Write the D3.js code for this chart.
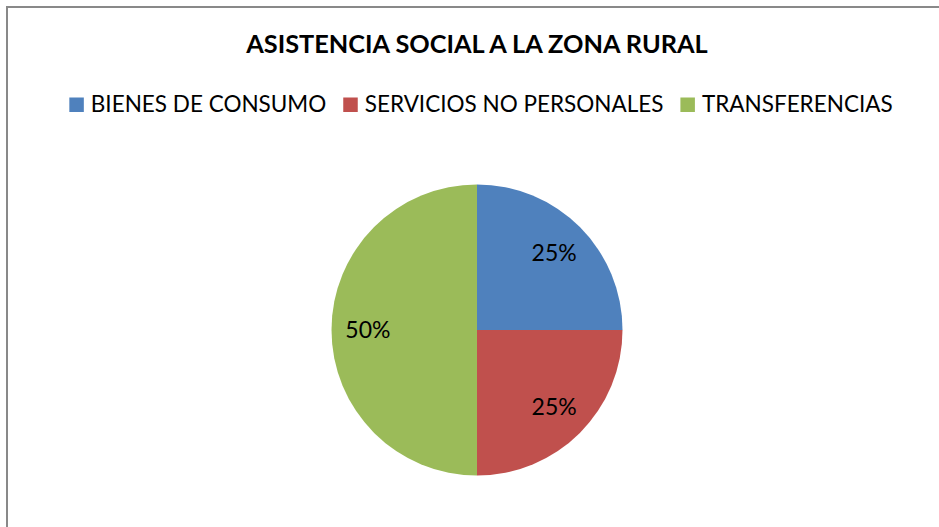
<!DOCTYPE html>
<html><head><meta charset="utf-8">
<script src="https://cdn.jsdelivr.net/npm/d3@7"></script>
<style>body{margin:0;background:#fff}svg{display:block}</style>
</head><body>
<svg id="c" width="939" height="527"></svg>
<script>
const title = "ASISTENCIA SOCIAL A LA ZONA RURAL";
const categories = ["BIENES DE CONSUMO", "SERVICIOS NO PERSONALES", "TRANSFERENCIAS"];
const values = [25, 25, 50];
const colors = ["#4F81BD", "#C0504D", "#9BBB59"];

const svg = d3.select("#c");
const font = "Lato, 'Open Sans', sans-serif";
svg.append("rect").attr("x", 7).attr("y", 7).attr("width", 1000).attr("height", 600)
  .attr("fill", "#fff").attr("stroke", "#898989").attr("stroke-width", 2);

svg.append("text").attr("x", 477).attr("y", 53).attr("text-anchor", "middle")
  .attr("font-family", font).attr("font-weight", "bold").attr("font-size", 25.3)
  .attr("fill", "#000").text(title);

// legend
const lg = svg.append("g");
let x = 0;
categories.forEach((c, i) => {
  const g = lg.append("g");
  g.append("rect").attr("x", 0).attr("y", -14.5).attr("width", 14.5).attr("height", 14.5).attr("fill", colors[i]);
  const t = g.append("text").attr("x", 21.5).attr("y", 0).attr("font-family", font).attr("font-size", 22.5)
    .attr("fill", "#000").text(c);
  const w = 21.5 + t.node().getComputedTextLength();
  g.attr("transform", `translate(${x},0)`);
  x += w + 17;
});
const totalW = x - 17;
lg.attr("transform", `translate(${481 - totalW / 2},112)`);

const cx = 477, cy = 330, R = 145.5;
const pie = d3.pie().sort(null).value(d => d)(values);
const arc = d3.arc().innerRadius(0).outerRadius(R);
const lab = d3.arc().innerRadius(R * 0.75).outerRadius(R * 0.75);
const pg = svg.append("g").attr("transform", `translate(${cx},${cy})`);
pg.selectAll("path").data(pie).join("path").attr("d", arc).attr("fill", (d, i) => colors[i]);
pg.selectAll("text").data(pie).join("text")
  .attr("transform", d => `translate(${lab.centroid(d)})`)
  .attr("text-anchor", "middle").attr("dy", "0.36em")
  .attr("font-family", font).attr("font-size", 23).attr("fill", "#000")
  .text(d => d.value + "%");
</script>
</body></html>
